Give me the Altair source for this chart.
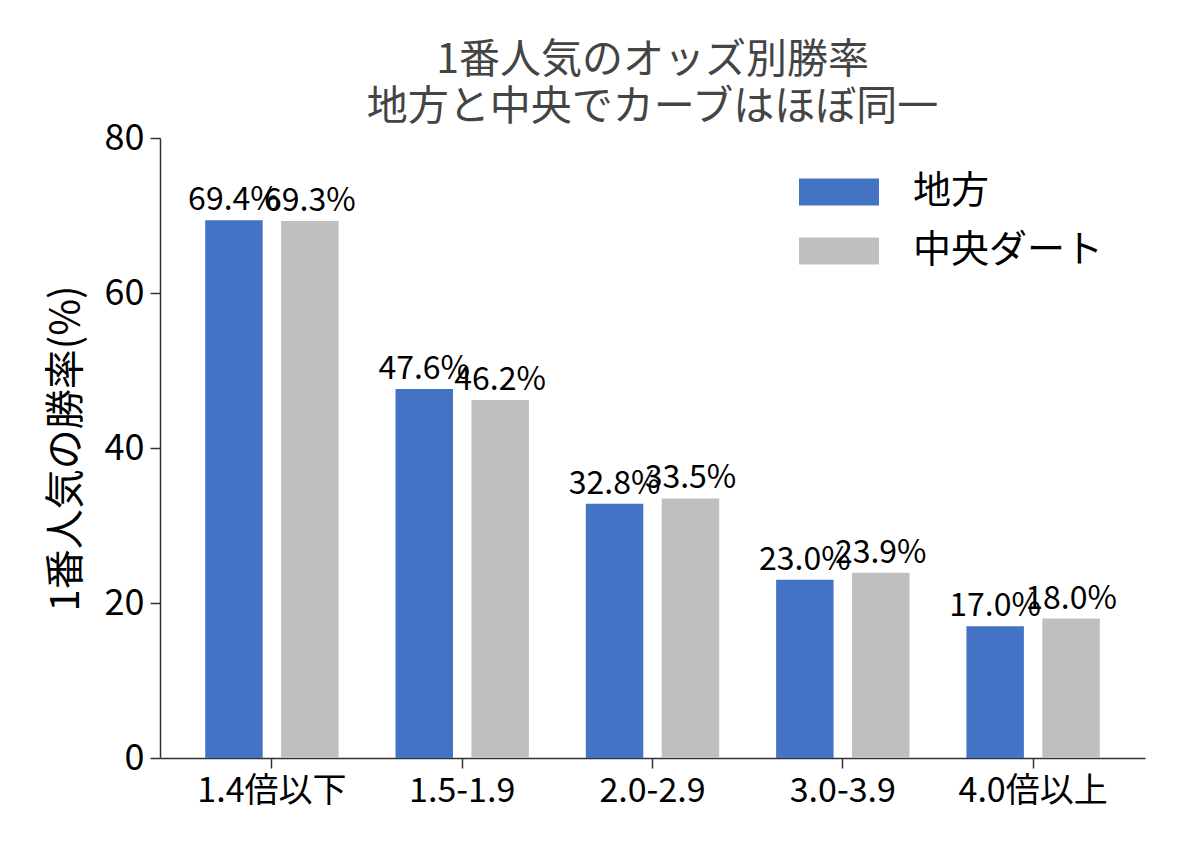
import altair as alt
import pandas as pd

categories = ["1.4倍以下", "1.5-1.9", "2.0-2.9", "3.0-3.9", "4.0倍以上"]
chiho = [69.4, 47.6, 32.8, 23.0, 17.0]
chuo = [69.3, 46.2, 33.5, 23.9, 18.0]
series = ["地方", "中央ダート"]
colors = ["#4472C4", "#BFBFBF"]

rows = []
for c, a, b in zip(categories, chiho, chuo):
    rows.append({"cat": c, "series": series[0], "val": a, "label": f"{a:.1f}%"})
    rows.append({"cat": c, "series": series[1], "val": b, "label": f"{b:.1f}%"})
df = pd.DataFrame(rows)

FONT = "Noto Sans CJK JP"

x = alt.X("cat:N", sort=categories, title=None,
          scale=alt.Scale(paddingInner=0, paddingOuter=0.088),
          axis=alt.Axis(labelAngle=0, labelFontSize=34, labelColor="black",
                        tickSize=10, tickColor="#333", domainColor="#333",
                        domainWidth=1.5, tickWidth=1.5, labelPadding=6,
                        labelFont=FONT))
xo = alt.XOffset("series:N", sort=series,
                 scale=alt.Scale(paddingInner=0.243, paddingOuter=0.375))

base = alt.Chart(df).encode(x=x, xOffset=xo)

bars = base.mark_bar().encode(
    y=alt.Y("val:Q", scale=alt.Scale(domain=[0, 80], nice=False),
            title="1番人気の勝率(%)",
            axis=alt.Axis(values=[0, 20, 40, 60, 80], grid=False,
                          labelFontSize=36, labelColor="black", labelFont=FONT,
                          titleFontSize=40, titleFont=FONT, titleColor="black",
                          titleFontWeight="normal", titlePadding=18,
                          tickSize=10, tickColor="#333", domainColor="#333",
                          domainWidth=1.5, tickWidth=1.5, labelPadding=6)),
    color=alt.Color("series:N", sort=series,
                    scale=alt.Scale(domain=series, range=colors),
                    legend=alt.Legend(title=None, orient="none", legendX=639, legendY=14,
                                      symbolType="M-1,-0.34L1,-0.34L1,0.34L-1,0.34Z",
                                      symbolSize=6400, symbolStrokeWidth=0,
                                      labelFontSize=38, labelFont=FONT, labelColor="black",
                                      labelOffset=34, labelLimit=0, rowPadding=0)),
)

labels = base.mark_text(baseline="alphabetic", dy=-10, fontSize=32, font=FONT,
                        color="black").encode(
    y=alt.Y("val:Q"),
    text="label:N",
)

chart = (bars + labels).properties(
    width=985, height=620,
    autosize=alt.AutoSizeParams(type="none"),
    padding={"left": 152, "top": 130, "right": 35, "bottom": 92},
    title=alt.TitleParams(["1番人気のオッズ別勝率", "地方と中央でカーブはほぼ同一"],
                          fontSize=41, font=FONT, color="#444", fontWeight="normal",
                          anchor="middle", lineHeight=47, offset=-9),
).configure_view(stroke=None)

chart.save("out.html", embed_options={"renderer": "svg", "actions": False})
